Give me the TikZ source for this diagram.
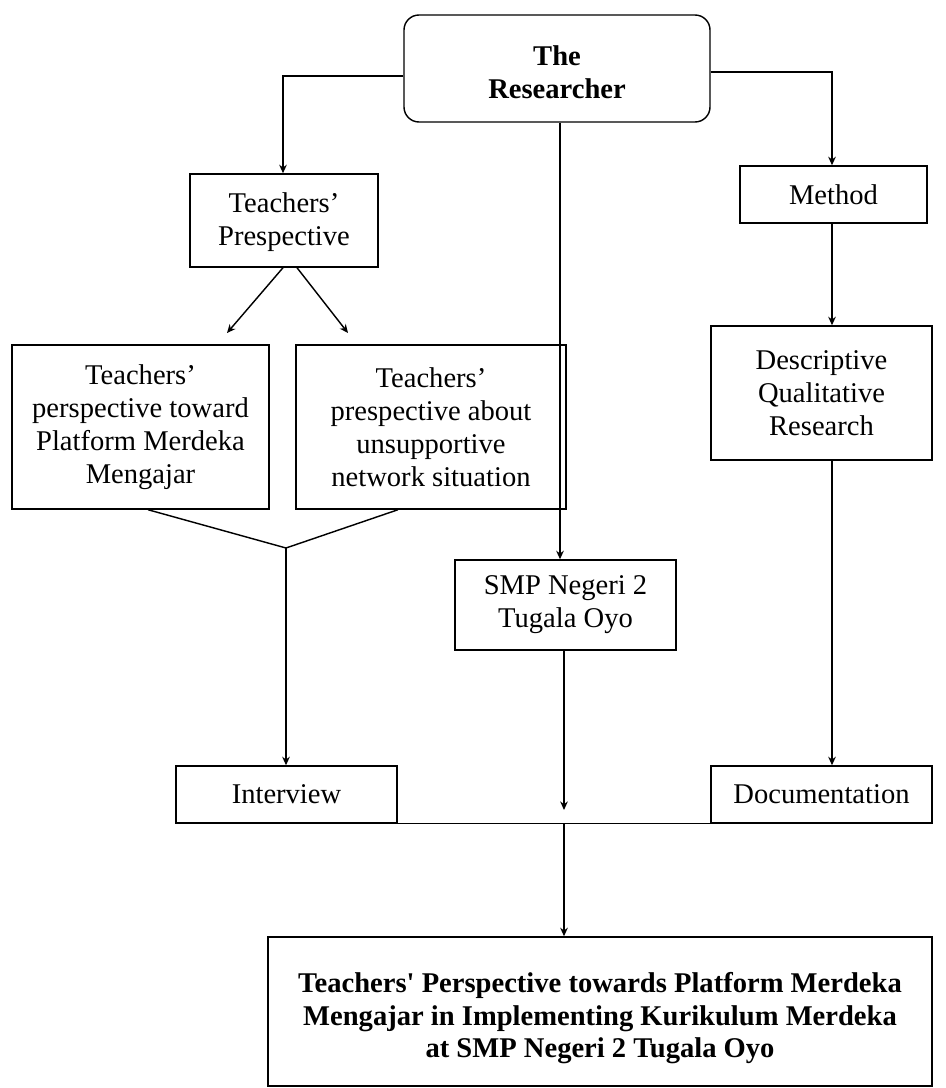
\documentclass[tikz,border=0pt]{standalone}
\usepackage{fontspec}
\setmainfont{Liberation Serif}[Ligatures=TeXOff]
\usetikzlibrary{arrows.meta}
\begin{document}
\begin{tikzpicture}[x=0.42pt,y=-0.42pt,
  box/.style={draw, line width=0.6pt, align=center, inner sep=0pt,
    font=\fontsize{12}{13.8}\selectfont},
  sz/.style 2 args={minimum width=#1*0.42pt, minimum height=#2*0.42pt},
  arr/.style={line width=0.6pt, -{Stealth[length=3.6pt,width=3.2pt]}},
  ln/.style={line width=0.6pt}]
\useasboundingbox (0,0) rectangle (945,1088);

% nodes
\node[box, sz={306}{107}, rounded corners=6.3pt, font=\fontsize{12}{13.8}\selectfont\bfseries] (res) at (557,68.5) {\rule{0pt}{11.6pt}The\\Researcher};
\node[box, sz={188}{93}] (tp) at (284,220.5) {\rule{0pt}{10pt}Teachers’\\Prespective};
\node[box, sz={257}{164}] (tpa) at (140.5,427) {Teachers’\\perspective toward\\Platform Merdeka\\Mengajar};
\node[box, sz={270}{164}] (tpb) at (431,427) {Teachers’\\prespective about\\unsupportive\\network situation};
\node[box, sz={187}{57}] (meth) at (833.5,194.5) {Method};
\node[box, sz={221}{134}] (desc) at (821.5,393) {Descriptive\\Qualitative\\Research};
\node[box, sz={221}{90}] (smp) at (565.5,605) {SMP Negeri 2\\Tugala Oyo};
\node[box, sz={221}{57}] (int) at (286.5,794.5) {Interview};
\node[box, sz={221}{57}] (doc) at (821.5,794.5) {Documentation};
\node[box, sz={664}{149}, font=\fontsize{12}{13.8}\selectfont\bfseries] (fin) at (600,1011.5) {\rule{0pt}{14pt}Teachers' Perspective towards Platform Merdeka\\Mengajar in Implementing Kurikulum Merdeka\\at SMP Negeri 2 Tugala Oyo};

% free-end coordinates
\coordinate (tpaTip) at (227,333);
\coordinate (tpbTip) at (348,333);
\coordinate (merge) at (286,548);
\coordinate (midTip) at (564,810);

% connectors from the researcher
\draw[arr] (res.west |- 0,76) -| (tp.north -| 283,0);
\draw[arr] (res.south -| 560,0) -- (smp.north -| 560,0);
\draw[arr] (res.east |- 0,72) -| (meth.north -| 832,0);

% teachers' prespective branch
\draw[arr] (tp.south -| 283,0) -- (tpaTip);
\draw[arr] (tp.south -| 297,0) -- (tpbTip);
\draw[ln] (tpa.south -| 148,0) -- (merge) -- (tpb.south -| 398,0);
\draw[arr] (merge) -- (int.north -| merge);

% method branch
\draw[arr] (meth.south -| 832,0) -- (desc.north -| 832,0);
\draw[arr] (desc.south -| 832,0) -- (doc.north -| 832,0);

% middle branch
\draw[arr] (smp.south -| midTip) -- (midTip);
\draw[ln] (int.south east) -- (doc.south west);
\draw[arr] (int.south east -| midTip) -- (fin.north -| midTip);
\end{tikzpicture}
\end{document}
